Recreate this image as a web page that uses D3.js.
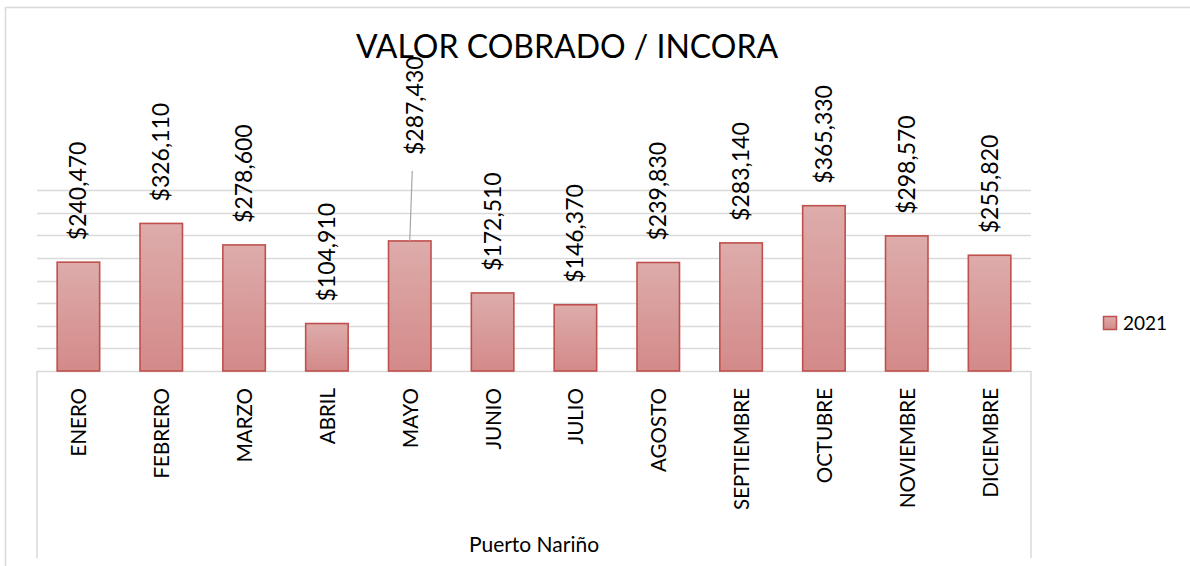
<!DOCTYPE html>
<html>
<head>
<meta charset="utf-8">
<script src="https://cdn.jsdelivr.net/npm/d3@7"></script>
<style>
  html, body { margin: 0; padding: 0; background: #fff; }
  svg { display: block; }
  text { font-family: Lato, "Open Sans", sans-serif; fill: #000; }
</style>
</head>
<body>
<svg id="chart" width="1190" height="566"></svg>
<script>
// ---- data ----
const months = ["ENERO", "FEBRERO", "MARZO", "ABRIL", "MAYO", "JUNIO", "JULIO",
                "AGOSTO", "SEPTIEMBRE", "OCTUBRE", "NOVIEMBRE", "DICIEMBRE"];
const values2021 = [240470, 326110, 278600, 104910, 287430, 172510, 146370,
                    239830, 283140, 365330, 298570, 255820];
const seriesName = "2021";
const groupLabel = "Puerto Nariño";
const chartTitle = "VALOR COBRADO / INCORA";
const yTicks = [0, 50000, 100000, 150000, 200000, 250000, 300000, 350000, 400000];

// ---- layout ----
const svg = d3.select("#chart");
const plot = { left: 37, right: 1031, top: 190, bottom: 371 };
const axisBottom = 558;

const x = d3.scaleBand().domain(months).range([plot.left, plot.right]).paddingInner(0.487).paddingOuter(0.2435);
const y = d3.scaleLinear().domain([0, 400000]).range([plot.bottom, plot.top]);
const fmt = d3.format("$,");

// outer chart border
svg.append("rect").attr("x", 5.5).attr("y", 7.5).attr("width", 1200).attr("height", 600)
  .attr("fill", "#fff").attr("stroke", "#D9D9D9").attr("stroke-width", 1.5);

// gradient
const defs = svg.append("defs");
const grad = defs.append("linearGradient").attr("id", "barGrad")
  .attr("x1", 0).attr("y1", 0).attr("x2", 0).attr("y2", 1);
grad.append("stop").attr("offset", "0%").attr("stop-color", "#DDACAB");
grad.append("stop").attr("offset", "100%").attr("stop-color", "#D38A89");

// gridlines
svg.append("g").selectAll("line").data(yTicks.filter(d => d > 0)).join("line")
  .attr("x1", plot.left).attr("x2", plot.right)
  .attr("y1", d => Math.round(y(d)) + 0.5).attr("y2", d => Math.round(y(d)) + 0.5)
  .attr("stroke", "#D9D9D9").attr("stroke-width", 1.4);

// category axis box
const ax = svg.append("g").attr("stroke", "#D9D9D9").attr("stroke-width", 1.5).attr("fill", "none");
ax.append("line").attr("x1", plot.left).attr("x2", plot.right).attr("y1", plot.bottom + 0.5).attr("y2", plot.bottom + 0.5);
ax.append("line").attr("x1", plot.left).attr("x2", plot.left).attr("y1", plot.bottom).attr("y2", axisBottom);
ax.append("line").attr("x1", plot.right).attr("x2", plot.right).attr("y1", plot.bottom).attr("y2", axisBottom);

// bars
svg.append("g").selectAll("rect").data(values2021).join("rect")
  .attr("x", (d, i) => x(months[i]))
  .attr("y", d => y(d))
  .attr("width", x.bandwidth())
  .attr("height", d => plot.bottom - y(d))
  .attr("fill", "url(#barGrad)")
  .attr("stroke", "#C0504D").attr("stroke-width", 1.6);

// data labels
const labelGap = 22;
const special = { 4: { dx: 5, y: 155 } };  // MAYO label moved up with leader line
const labels = svg.append("g");
values2021.forEach((v, i) => {
  const cx = x(months[i]) + x.bandwidth() / 2;
  let lx = cx + 8, ly = y(v) - labelGap;
  if (special[i]) {
    lx = cx + special[i].dx + 8; ly = special[i].y;
    labels.append("line")
      .attr("x1", cx + 2.5).attr("y1", 171).attr("x2", cx).attr("y2", y(v))
      .attr("stroke", "#A6A6A6").attr("stroke-width", 1.2);
  }
  labels.append("text")
    .attr("transform", `translate(${lx},${ly}) rotate(-90)`)
    .attr("font-size", 23)
    .text(fmt(v));
});

// category labels
svg.append("g").selectAll("text").data(months).join("text")
  .attr("transform", d => `translate(${x(d) + x.bandwidth() / 2 + 8},388) rotate(-90)`)
  .attr("text-anchor", "end")
  .attr("font-size", 20.5)
  .text(d => d);

// group label
svg.append("text").attr("x", (plot.left + plot.right) / 2).attr("y", 552)
  .attr("text-anchor", "middle").attr("font-size", 21).text(groupLabel);

// title
svg.append("text").attr("x", 567).attr("y", 58).attr("text-anchor", "middle")
  .attr("font-size", 32).text(chartTitle);

// legend
const lg = svg.append("g");
lg.append("rect").attr("x", 1103.5).attr("y", 316.5).attr("width", 13).attr("height", 13)
  .attr("fill", "url(#barGrad)").attr("stroke", "#C0504D").attr("stroke-width", 1.5);
lg.append("text").attr("x", 1123).attr("y", 330).attr("font-size", 19).text(seriesName);
</script>
</body>
</html>
